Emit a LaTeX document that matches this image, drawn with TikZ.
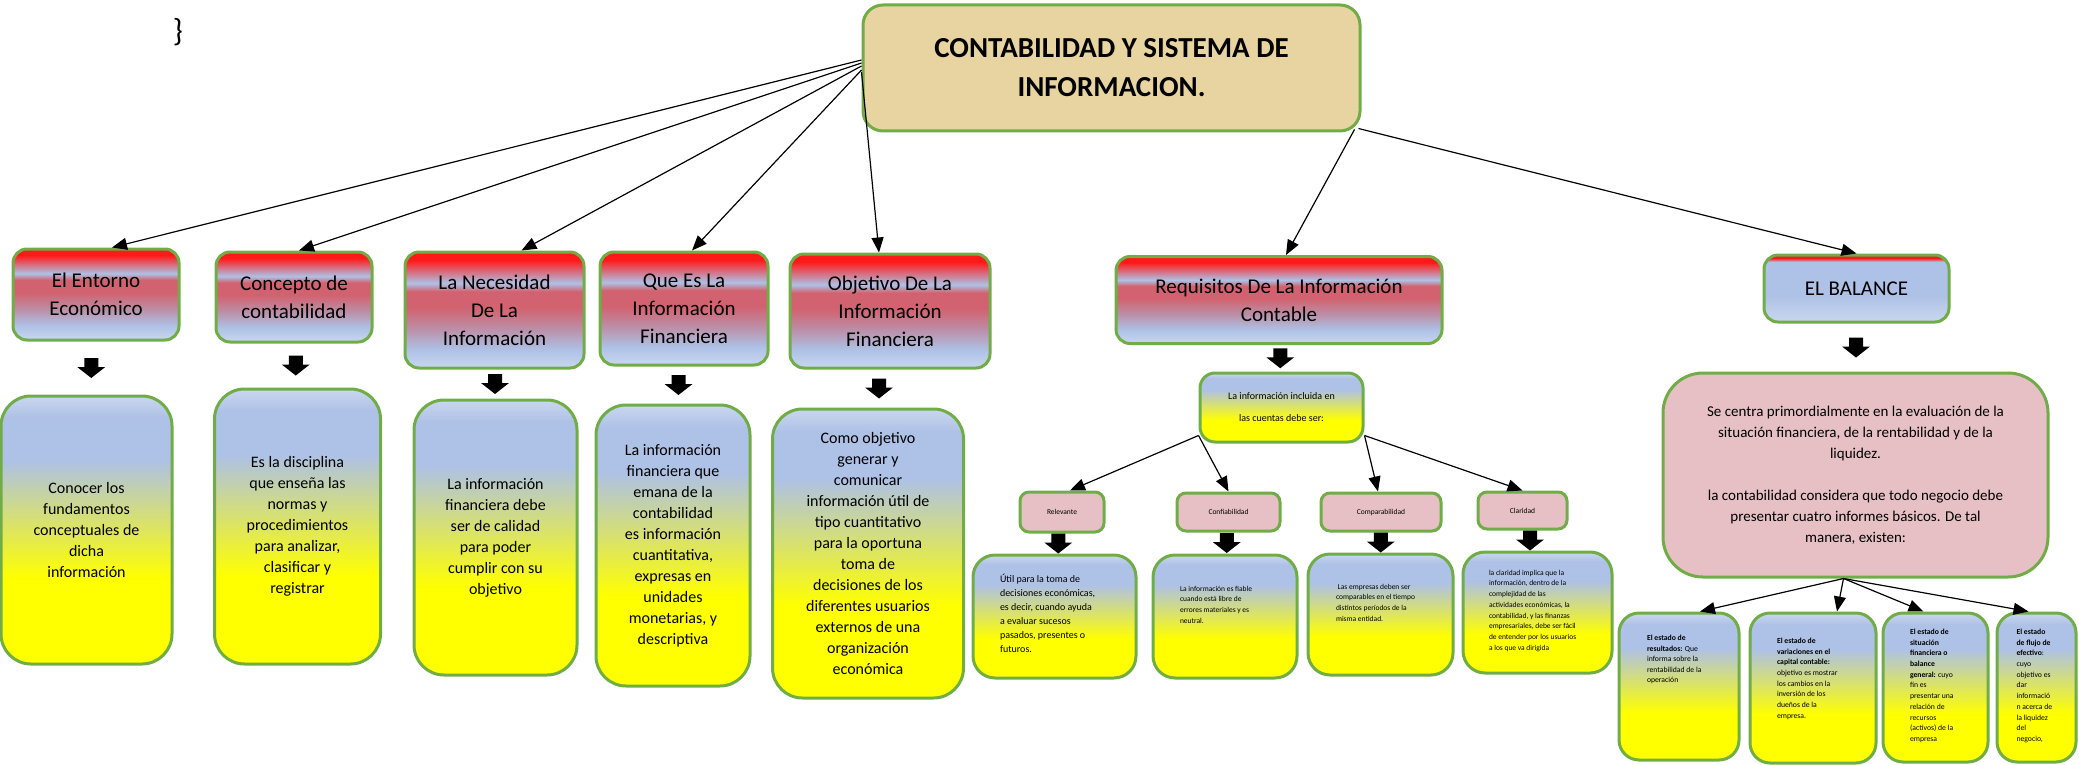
\documentclass[tikz,border=0pt]{standalone}
\usepackage{fontspec}
\setmainfont{Carlito}
\usepackage{tikz}
\usetikzlibrary{arrows.meta,calc,positioning}

\definecolor{verde}{HTML}{70AD47}
\definecolor{rojo}{HTML}{FF1A1A}
\definecolor{rojizo}{HTML}{D2626F}
\definecolor{malva}{HTML}{BC8EA6}
\definecolor{azul}{HTML}{AEC1E6}
\definecolor{azulcl}{HTML}{C9D7EF}
\definecolor{amarillo}{HTML}{FFFF00}
\definecolor{rosado}{HTML}{E6C0C4}
\definecolor{pergamino}{HTML}{E8D4A0}

\pgfdeclareverticalshading{encabezado}{100bp}{color(0bp)=(azulcl); color(25bp)=(azulcl); color(33bp)=(azul); color(42bp)=(malva); color(51bp)=(rojizo); color(58bp)=(rojizo); color(61.5bp)=(azul); color(71.5bp)=(rojo); color(100bp)=(rojo)}
\pgfdeclareverticalshading{encabalance}{100bp}{color(0bp)=(azulcl); color(25bp)=(azulcl); color(45bp)=(azul); color(70bp)=(azul); color(72.5bp)=(rojo); color(100bp)=(rojo)}
\pgfdeclareverticalshading{azulamarillo}{100bp}{color(0bp)=(amarillo); color(41bp)=(amarillo); color(63bp)=(azul); color(71bp)=(azul); color(75bp)=(azulcl); color(100bp)=(azulcl)}

\tikzstyle{caja} = [draw=verde, line width=3pt, align=center, inner sep=2pt, text=black]
\tikzstyle{titulo} = [caja, rounded corners=20pt, fill=pergamino,
  font=\fontsize{29}{39}\selectfont\bfseries]
\tikzstyle{encab} = [caja, rounded corners=14pt, shading=encabezado,
  font=\fontsize{21}{28}\selectfont]
\tikzstyle{contenido} = [caja, rounded corners=30pt, shading=azulamarillo,
  font=\fontsize{16}{21}\selectfont]
\tikzstyle{detalle} = [caja, rounded corners=22pt, shading=azulamarillo, inner sep=0pt]
\tikzstyle{etiqueta} = [caja, rounded corners=9pt, fill=rosado,
  font=\fontsize{7.5}{9}\selectfont]
\tikzstyle{flecha} = [-{Triangle[length=15pt,width=12pt]}, line width=1.2pt]
\newcommand{\arriba}[3]{\parbox[c][#1][t]{#2}{\raggedright #3}}
\newcommand{\bajar}[1]{\fill (#1) +(-7,-10) -- +(7,-10) -- +(7,-1) -- +(14,-1)
  -- +(0,10) -- +(-14,-1) -- +(-7,-1) -- cycle;}

\begin{document}
\begin{tikzpicture}[x=1pt, y=-1pt]
  \useasboundingbox (0,0) rectangle (2079,765);

  \node (llave) at (178,32) {\fontsize{32}{36}\selectfont\}};
  \node[titulo, minimum width=497pt, minimum height=126pt] (sistema) at (1111.5,68)
    {CONTABILIDAD Y SISTEMA DE\\INFORMACION.};

  % primera fila
  \node[encab, minimum width=166pt, minimum height=91pt] (entorno) at (96,294.5)
    {El Entorno\\Económico};
  \node[encab, minimum width=156pt, minimum height=90pt] (concepto) at (294,297)
    {Concepto de\\contabilidad};
  \node[encab, minimum width=179pt, minimum height=116pt] (necesidad) at (494.5,310)
    {La Necesidad\\De La\\Información};
  \node[encab, minimum width=168pt, minimum height=113pt] (quees) at (684,308.5)
    {Que Es La\\Información\\Financiera};
  \node[encab, minimum width=200pt, minimum height=114pt] (objetivo) at (890,311)
    {Objetivo De La\\Información\\Financiera};
  \node[encab, minimum width=326pt, minimum height=87pt] (requisitos) at (1279,300)
    {Requisitos De La Información\\Contable};
  \node[encab, shading=encabalance, minimum width=185pt, minimum height=67pt]
    (balance) at (1856.5,288.5) {EL BALANCE};

  \draw[flecha] ([yshift=8pt]sistema.west) -- ([xshift=16pt]entorno.north);
  \draw[flecha] ([yshift=5pt]sistema.west) -- ([xshift=5pt]concepto.north);
  \draw[flecha] ([yshift=2pt]sistema.west) -- ([xshift=27pt]necesidad.north);
  \draw[flecha] ([yshift=-2pt]sistema.west) -- ([xshift=8pt]quees.north);
  \draw[flecha] ([yshift=-4pt]sistema.west) -- ([xshift=-11pt]objetivo.north);
  \draw[flecha] ([xshift=-7pt,yshift=3pt]sistema.south east) -- ([xshift=7pt]requisitos.north);
  \draw[flecha] ([xshift=-3pt,yshift=4pt]sistema.south east) -- (balance.north);

  % segunda fila
  \node[contenido, minimum width=171pt, minimum height=268pt] (conocer) at (86.5,530)
    {Conocer los\\fundamentos\\conceptuales de\\dicha\\información};
  \node[contenido, minimum width=166pt, minimum height=275pt] (disciplina) at (297.5,526.5)
    {Es la disciplina\\que enseña las\\normas y\\procedimientos\\para analizar,\\clasificar y\\registrar};
  \node[contenido, minimum width=163pt, minimum height=275pt] (calidad) at (495.5,537.5)
    {La información\\financiera debe\\ser de calidad\\para poder\\cumplir con su\\objetivo};
  \node[contenido, minimum width=154pt, minimum height=281pt] (emana) at (673,545.5)
    {La información\\financiera que\\emana de la\\contabilidad\\es información\\cuantitativa,\\expresas en\\unidades\\monetarias, y\\descriptiva};
  \node[contenido, minimum width=191pt, minimum height=289pt] (generar) at (868,553.5)
    {Como objetivo\\generar y\\comunicar\\información útil de\\tipo cuantitativo\\para la oportuna\\toma de\\decisiones de los\\diferentes usuarios\\externos de una\\organización\\económica};

  \bajar{$(entorno.south)!0.5!(conocer.north)$}
  \bajar{$(concepto.south)!0.5!(disciplina.north)$}
  \bajar{$(necesidad.south)!0.5!(calidad.north)$}
  \bajar{$(quees.south)!0.5!(emana.north)$}
  \bajar{$(objetivo.south)!0.5!(generar.north)$}

  % requisitos
  \node[caja, rounded corners=15pt, shading=azulamarillo, minimum width=163pt,
    minimum height=69pt, font=\fontsize{10}{22}\selectfont] (incluida) at (1281.5,407.5)
    {La información incluida en\\las cuentas debe ser:};
  \bajar{$(requisitos.south)!0.5!(incluida.north)$}

  \node[etiqueta, minimum width=84pt, minimum height=40pt] (relevante) at (1062,512) {Relevante};
  \node[etiqueta, minimum width=103pt, minimum height=38pt] (confiable) at (1228.5,512) {Confiabilidad};
  \node[etiqueta, minimum width=120pt, minimum height=38pt] (comparable) at (1381,512) {Comparabilidad};
  \node[etiqueta, minimum width=89pt, minimum height=37pt] (claridad) at (1522.5,510.5) {Claridad};

  \draw[flecha] ([yshift=8pt]incluida.south west) -- ([xshift=8pt]relevante.north);
  \draw[flecha] ([yshift=8pt]incluida.south west) -- (confiable.north);
  \draw[flecha] ([yshift=8pt]incluida.south east) -- ([xshift=-3pt]comparable.north);
  \draw[flecha] ([yshift=8pt]incluida.south east) -- (claridad.north);

  \node[detalle, minimum width=163pt, minimum height=123pt, font=\fontsize{10}{14}\selectfont]
    (util) at (1054.5,616.5) {\arriba{85pt}{109pt}{Útil para la toma de\\decisiones económicas,\\es decir, cuando ayuda\\a evaluar sucesos\\pasados, presentes o\\futuros.}};
  \node[detalle, minimum width=144pt, minimum height=123pt, font=\fontsize{7.5}{10.7}\selectfont]
    (fiable) at (1225,616.5) {\arriba{61pt}{90pt}{La información es fiable\\cuando está libre de\\errores materiales y es\\neutral.}};
  \node[detalle, minimum width=145pt, minimum height=121pt, font=\fontsize{7.5}{10.7}\selectfont]
    (mismaent) at (1380.5,614.5) {\arriba{61pt}{89pt}{\ Las empresas deben ser\\comparables en el tiempo\\distintos períodos de la\\misma entidad.}};
  \node[detalle, minimum width=149pt, minimum height=121pt, font=\fontsize{7.5}{10.7}\selectfont]
    (entender) at (1537.5,612.5) {\arriba{85pt}{97pt}{la claridad implica que la\\información, dentro de la\\complejidad de las\\actividades económicas, la\\contabilidad, y las finanzas\\empresariales, debe ser fácil\\de entender por los usuarios\\a los que va dirigida}};

  \bajar{$(relevante.south)!0.5!(util.north)$}
  \bajar{$(confiable.south)!0.5!(fiable.north)$}
  \bajar{$(comparable.south)!0.5!(mismaent.north)$}
  \bajar{$(claridad.south)!0.5!(entender.north)$}

  % balance
  \node[caja, rounded corners=40pt, fill=rosado, minimum width=385pt, minimum height=204pt,
    font=\fontsize{15}{21}\selectfont] (informes) at (1855.5,475)
    {Se centra primordialmente en la evaluación de la\\situación financiera, de la rentabilidad y de la\\liquidez.\\[21pt]la contabilidad considera que todo negocio debe\\presentar cuatro informes básicos. De tal\\manera, existen:};
  \bajar{$(balance.south)!0.5!(informes.north)$}

  \node[detalle, rounded corners=20pt, minimum width=120pt, minimum height=147pt,
    font=\fontsize{7.7}{10.6}\selectfont] (resultados) at (1679,686.5)
    {\arriba{103pt}{64pt}{\textbf{El estado de}\\\textbf{resultados:} Que\\informa sobre la\\rentabilidad de la\\operación}};
  \node[detalle, rounded corners=20pt, minimum width=126pt, minimum height=150pt,
    font=\fontsize{7.7}{10.7}\selectfont] (variaciones) at (1813,688)
    {\arriba{100pt}{72pt}{\textbf{El estado de}\\\textbf{variaciones en el}\\\textbf{capital contable:}\\objetivo es mostrar\\los cambios en la\\inversión de los\\dueños de la\\empresa.}};
  \node[detalle, rounded corners=20pt, minimum width=105pt, minimum height=149pt,
    font=\fontsize{7.7}{10.7}\selectfont] (situacion) at (1935.5,687.5)
    {\arriba{117pt}{51pt}{\textbf{El estado de}\\\textbf{situación}\\\textbf{financiera o}\\\textbf{balance}\\\textbf{general:} cuyo\\fin es\\presentar una\\relación de\\recursos\\(activos) de la\\empresa}};
  \node[detalle, rounded corners=20pt, minimum width=79pt, minimum height=149pt,
    font=\fontsize{7.7}{10.7}\selectfont] (flujo) at (2036.5,687.5)
    {\arriba{117pt}{40pt}{\textbf{El estado}\\\textbf{de flujo de}\\\textbf{efectivo}:\\cuyo\\objetivo es\\dar\\informació\\n acerca de\\la liquidez\\del\\negocio,}};

  \draw[flecha] ([xshift=-12pt]informes.south) -- ([xshift=21pt]resultados.north);
  \draw[flecha] ([xshift=-12pt]informes.south) -- ([xshift=24pt]variaciones.north);
  \draw[flecha] ([xshift=-12pt]informes.south) -- ([xshift=-12pt]situacion.north);
  \draw[flecha] ([xshift=-12pt]informes.south) -- ([xshift=-8pt]flujo.north);
\end{tikzpicture}
\end{document}
